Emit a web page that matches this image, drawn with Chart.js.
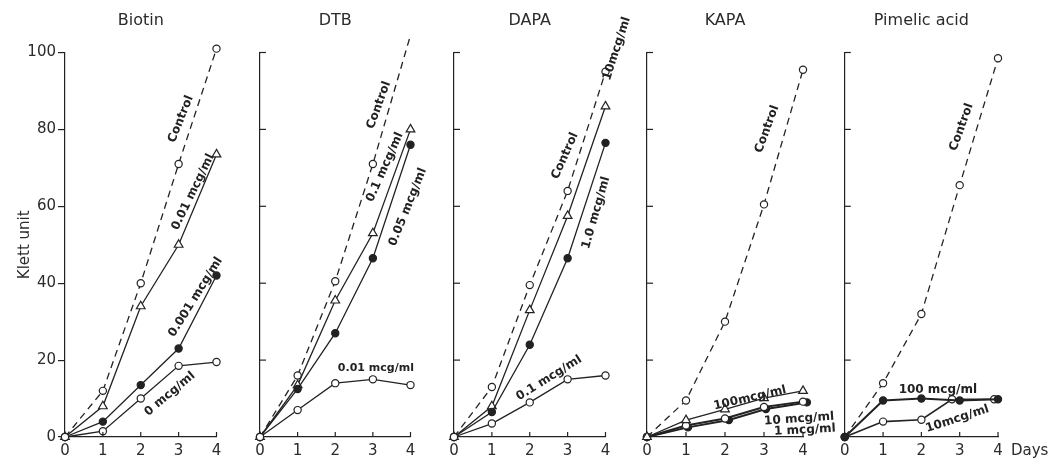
<!DOCTYPE html>
<html>
<head>
<meta charset="utf-8">
<script src="https://cdn.jsdelivr.net/npm/chart.js@4.4.0/dist/chart.umd.min.js"></script>
<style>
    html, body { margin: 0; padding: 0; background: #fff; }
    #wrap { position: relative; width: 1050px; height: 462px; overflow: hidden; background: #fff; }
    #wrap canvas { position: absolute; top: 0; }
</style>
</head>
<body>
<div id="wrap">
    <canvas id="c1"></canvas>
    <canvas id="c2"></canvas>
    <canvas id="c3"></canvas>
    <canvas id="c4"></canvas>
    <canvas id="c5"></canvas>
</div>
<script>
// --- Data (Klett units per day) ---
const days = [0, 1, 2, 3, 4];
const yTicks = [0, 20, 40, 60, 80, 100];

// Biotin
const biotinControl = [0, 12, 40, 71, 101];
const biotin001 = [0, 8, 34, 50, 73.5];
const biotin0001 = [0, 4, 13.5, 23, 42];
const biotin0 = [0, 1.5, 10, 18.5, 19.5];

// DTB
const dtbControl = [0, 16, 40.5, 71, 104.5];
const dtb01 = [0, 13.5, 35.5, 53, 80];
const dtb005 = [0, 12.5, 27, 46.5, 76];
const dtb001 = [0, 7, 14, 15, 13.5];

// DAPA
const dapaControl = [0, 13, 39.5, 64, 95];
const dapa10 = [0, 8, 33, 57.5, 86];
const dapa1 = [0, 6.5, 24, 46.5, 76.5];
const dapa01 = [0, 3.5, 9, 15, 16];

// KAPA
const kapaControl = [0, 9.5, 30, 60.5, 95.5];
const kapa100 = [0, 4.4, 7.2, 10.1, 12];
const kapa10 = [0, 3, 4.8, 7.8, 9.2];
const kapa1 = [0, 2.5, 4.4, 7.3, 9];
const kapa1Days = [0, 1.05, 2.1, 3.05, 4.1];

// Pimelic acid
const pimControl = [0, 14, 32, 65.5, 98.5];
const pim100 = [0, 9.5, 10, 9.5, 9.8];
const pim10 = [0, 4, 4.5, 9.8, 9.8];
const pim10Days = [0, 1, 2, 2.8, 3.9];

// --- Styles ---
const INK = '#222';
const TEXT = '#2b2b2b';
const FONT = '"DejaVu Sans", sans-serif';

function series(values, kind, xs, extra) {
    xs = xs || days;
    return Object.assign({
        data: values.map((v, i) => ({ x: xs[i], y: v })),
        borderColor: INK,
        borderWidth: 1.3,
        borderDash: kind === 'control' ? [7, 5] : [],
        pointStyle: kind === 'triangle' ? 'triangle' : 'circle',
        pointRadius: kind === 'triangle' ? 5 : 3.6,
        pointBorderWidth: 1.2,
        pointBorderColor: INK,
        pointBackgroundColor: kind === 'filled' ? INK : '#fff',
        tension: 0,
        clip: false
    }, extra || {});
}

const panels = [
    {
        id: 'c1', left: 0, width: 240, padL: 0, padR: 23.5, title: 'Biotin', yLabels: true,
        datasets: [
            series(biotin0, 'open'),
            series(biotin0001, 'filled'),
            series(biotin001, 'triangle'),
            series(biotinControl, 'control')
        ],
        notes: [
            { text: 'Control', x: 3.06, y: 82.7, rot: -68 },
            { text: '0.01 mcg/ml', x: 3.38, y: 63.7, rot: -64 },
            { text: '0.001 mcg/ml', x: 3.45, y: 36.4, rot: -58 },
            { text: '0 mcg/ml', x: 2.77, y: 11.2, rot: -40 }
        ]
    },
    {
        id: 'c2', left: 240, width: 195, padL: 20, padR: 24.5, title: 'DTB',
        datasets: [
            series(dtb001, 'open'),
            series(dtb005, 'filled'),
            series(dtb01, 'triangle'),
            series(dtbControl, 'control')
        ],
        notes: [
            { text: 'Control', x: 3.16, y: 86.3, rot: -70 },
            { text: '0.1 mcg/ml', x: 3.32, y: 70.2, rot: -66 },
            { text: '0.05 mcg/ml', x: 3.93, y: 59.8, rot: -68 },
            { text: '0.01 mcg/ml', x: 3.08, y: 17.9, rot: 0, size: 11 }
        ]
    },
    {
        id: 'c3', left: 435, width: 200, padL: 19, padR: 29.5, title: 'DAPA',
        datasets: [
            series(dapa01, 'open'),
            series(dapa1, 'filled'),
            series(dapa10, 'triangle'),
            series(dapaControl, 'control')
        ],
        notes: [
            { text: 'Control', x: 2.93, y: 73.1, rot: -66 },
            { text: '10mcg/ml', x: 4.3, y: 101, rot: -72 },
            { text: '1.0 mcg/ml', x: 3.75, y: 58.3, rot: -74 },
            { text: '0.1 mcg/ml', x: 2.51, y: 15.3, rot: -32 }
        ]
    },
    {
        id: 'c4', left: 635, width: 200, padL: 12, padR: 32, title: 'KAPA',
        datasets: [
            series(kapa100, 'triangle'),
            series(kapa10, 'open', null, { borderWidth: 2 }),
            series(kapa1, 'filled', kapa1Days, { borderWidth: 2 }),
            series(kapaControl, 'control')
        ],
        notes: [
            { text: 'Control', x: 3.08, y: 80.1, rot: -70 },
            { text: '100mcg/ml', x: 2.64, y: 10.1, rot: -13 },
            { text: '10 mcg/ml', x: 3.9, y: 4.7, rot: -4 },
            { text: '1 mcg/ml', x: 4.05, y: 1.8, rot: -3 }
        ]
    },
    {
        id: 'c5', left: 835, width: 215, padL: 8, padR: 52, title: 'Pimelic acid', daysLabel: true,
        datasets: [
            series(pim100, 'filled', null, { borderWidth: 2 }),
            series(pim10, 'open', pim10Days, { borderWidth: 1.6 }),
            series(pimControl, 'control')
        ],
        notes: [
            { text: 'Control', x: 3.05, y: 80.6, rot: -70 },
            { text: '100 mcg/ml', x: 2.43, y: 12.2, rot: 0 },
            { text: '10mcg/ml', x: 2.94, y: 4.7, rot: -18 }
        ]
    }
];

// inward ticks, curve labels, "Days"
const decor = {
    id: 'decor',
    afterDatasetsDraw(chart, args, opts) {
        const { ctx, chartArea } = chart;
        const x = chart.scales.x, y = chart.scales.y;
        ctx.save();
        ctx.strokeStyle = INK;
        ctx.lineWidth = 1.2;
        days.slice(1).forEach(d => {
            const px = x.getPixelForValue(d);
            ctx.beginPath();
            ctx.moveTo(px, chartArea.bottom);
            ctx.lineTo(px, chartArea.bottom - 5);
            ctx.stroke();
        });
        if (!opts.yLabels) {
            yTicks.slice(1).forEach(v => {
                const py = y.getPixelForValue(v);
                ctx.beginPath();
                ctx.moveTo(chartArea.left, py);
                ctx.lineTo(chartArea.left + 6, py);
                ctx.stroke();
            });
        }
        ctx.fillStyle = INK;
        ctx.textAlign = 'center';
        ctx.textBaseline = 'middle';
        opts.notes.forEach(n => {
            ctx.save();
            ctx.font = 'bold ' + (n.size || 12) + 'px ' + FONT;
            ctx.translate(x.getPixelForValue(n.x), y.getPixelForValue(n.y));
            ctx.rotate(n.rot * Math.PI / 180);
            ctx.fillText(n.text, 0, 0);
            ctx.restore();
        });
        if (opts.daysLabel) {
            ctx.fillStyle = TEXT;
            ctx.font = '15px ' + FONT;
            ctx.textAlign = 'left';
            ctx.fillText('Days', chartArea.right + 13, chartArea.bottom + 14);
        }
        ctx.restore();
    }
};

panels.forEach(p => {
    const canvas = document.getElementById(p.id);
    canvas.width = p.width;
    canvas.height = 462;
    canvas.style.left = p.left + 'px';

    new Chart(canvas, {
        type: 'line',
        data: { datasets: p.datasets },
        plugins: [decor],
        options: {
            responsive: false,
            animation: false,
            events: [],
            layout: { padding: { left: p.padL, right: p.padR, top: 0, bottom: 0 } },
            plugins: {
                legend: { display: false },
                tooltip: { enabled: false },
                title: {
                    display: true,
                    text: p.title,
                    fullSize: false,
                    color: TEXT,
                    font: { family: FONT, size: 16, weight: 'normal' },
                    padding: { top: 11, bottom: 22.3 }
                },
                decor: { notes: p.notes, yLabels: !!p.yLabels, daysLabel: !!p.daysLabel }
            },
            scales: {
                x: {
                    type: 'linear',
                    min: 0,
                    max: 4,
                    afterBuildTicks: s => { s.ticks = days.map(v => ({ value: v })); },
                    ticks: { color: TEXT, font: { family: FONT, size: 15 }, padding: 5, maxRotation: 0, autoSkip: false },
                    grid: { drawOnChartArea: false, drawTicks: false, color: INK },
                    border: { display: true, color: INK, width: 1.2 },
                    afterFit: s => { s.height = 25; }
                },
                y: {
                    min: 0,
                    max: 100,
                    afterBuildTicks: s => { s.ticks = yTicks.map(v => ({ value: v })); },
                    ticks: { display: !!p.yLabels, color: TEXT, font: { family: FONT, size: 15 }, padding: 2 },
                    grid: { drawOnChartArea: false, drawTicks: !!p.yLabels, tickLength: 7, color: INK, lineWidth: 1.2 },
                    border: { display: true, color: INK, width: 1.2 },
                    title: {
                        display: !!p.yLabels,
                        text: 'Klett unit',
                        color: TEXT,
                        font: { family: FONT, size: 15 },
                        padding: { top: 16, bottom: 0 }
                    },
                    afterFit: s => { s.width = p.yLabels ? 65 : 0; }
                }
            }
        }
    });
});
</script>
</body>
</html>
